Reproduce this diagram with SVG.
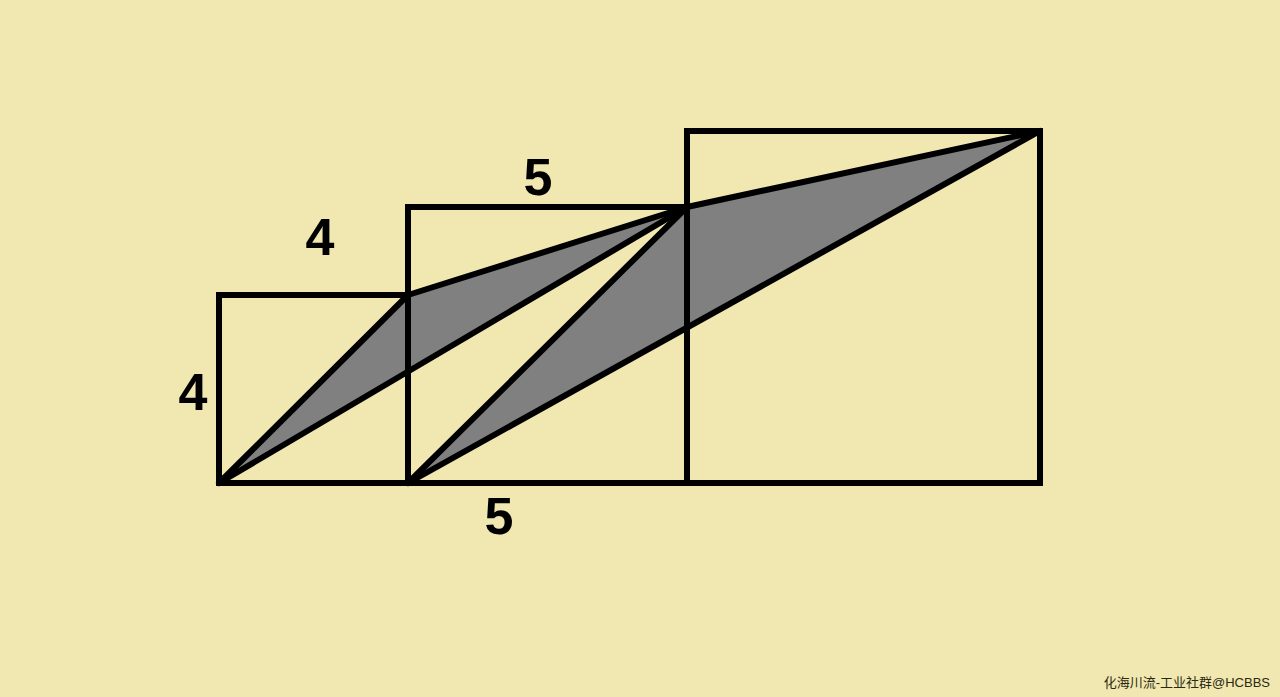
<svg xmlns="http://www.w3.org/2000/svg" width="1280" height="697" viewBox="0 0 1280 697">
<style>
.sq{fill:none;stroke:#000;stroke-width:6;stroke-linejoin:miter}
.sh{fill:#808080;stroke:none}
.ln{stroke:#000;stroke-width:6;stroke-linecap:round;fill:none}
.lb{font-family:"Liberation Sans",Arial,sans-serif;font-weight:bold;font-size:52px;fill:#000;text-anchor:middle}
.wm{font-family:"Liberation Sans","Noto Sans CJK SC",sans-serif;font-size:13px;fill:#2a2a10;text-anchor:end}
</style>
<rect width="1280" height="697" fill="#F1E7B1"/>
<g id="shading">
<polygon class="sh" points="219,483 408,295 687,207"/>
<polygon class="sh" points="408,483 687,207 1040,131"/>
</g>
<g id="square1"><rect class="sq" x="219" y="295" width="189" height="188"/></g>
<g id="square2"><rect class="sq" x="408" y="207" width="279" height="276"/></g>
<g id="square3"><rect class="sq" x="687" y="131" width="353" height="352"/></g>
<g id="connectors">
<line class="ln" x1="219" y1="483" x2="408" y2="295"/>
<line class="ln" x1="219" y1="483" x2="687" y2="207"/>
<line class="ln" x1="408" y1="295" x2="687" y2="207"/>
<line class="ln" x1="408" y1="483" x2="687" y2="207"/>
<line class="ln" x1="408" y1="483" x2="1040" y2="131"/>
<line class="ln" x1="687" y1="207" x2="1040" y2="131"/>
</g>
<g id="labels">
<text class="lb" x="320" y="255">4</text>
<text class="lb" x="538" y="195">5</text>
<text class="lb" x="193" y="410">4</text>
<text class="lb" x="499" y="534">5</text>
</g>
<text class="wm" x="1270" y="687">化海川流-工业社群@HCBBS</text>
</svg>
